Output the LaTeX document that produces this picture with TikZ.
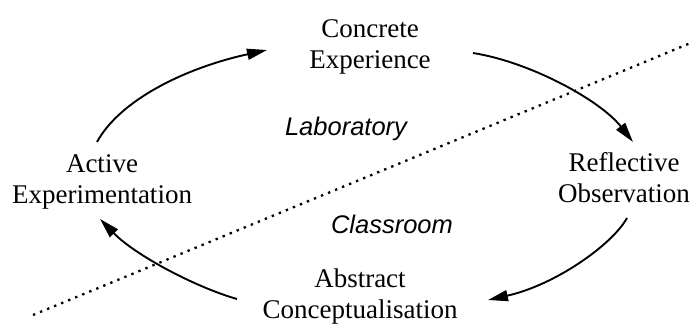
\documentclass[tikz,border=0pt]{standalone}
\usepackage{fontspec}
\setmainfont{Liberation Serif}
\newfontfamily\labfont{Liberation Sans}
\usetikzlibrary{arrows.meta}
\tikzset{
  stage/.style={inner sep=0pt, anchor=base, align=center, font=\fontsize{27}{31}\selectfont},
  area/.style={inner sep=0pt, anchor=base, font=\labfont\itshape\fontsize{25.5}{30}\selectfont},
  cyc/.style={line width=1.9pt, -{Triangle[length=20pt,width=11pt]}},
  divider/.style={line width=2.3pt, dash pattern=on 2.4pt off 5.2pt}
}
\begin{document}
\begin{tikzpicture}[x=1pt,y=-1pt]
\useasboundingbox (0,0) rectangle (694,324);
% dividing line
\coordinate (dl) at (33,315);
\coordinate (dr) at (693,42);
\draw[divider] (dl) -- (dr);
% stages (base = baseline of last line)
\node[stage] (ce) at (370,68) {Concrete\\Experience};
\node[stage] (ro) at (624,202) {Reflective\\Observation};
\node[stage] (ac) at (360,318) {Abstract\\Conceptualisation};
\node[stage] (ae) at (102,203) {Active\\Experimentation};
% areas
\node[area] (lab) at (346,135) {Laboratory};
\node[area] (cls) at (392,233) {Classroom};
% arrow end points
\coordinate (a1s) at (97,142);  \coordinate (a1e) at (267,50);
\coordinate (a2s) at (473,53);  \coordinate (a2e) at (633,142);
\coordinate (a3s) at (627,218); \coordinate (a3e) at (488,300);
\coordinate (a4s) at (237,299); \coordinate (a4e) at (100,219);
\draw[cyc] (a1s) .. controls (120,100) and (185,68) .. (a1e);
\draw[cyc] (a2s) .. controls (530,62) and (600,100) .. (a2e);
\draw[cyc] (a3s) .. controls (612,245) and (555,285) .. (a3e);
\draw[cyc] (a4s) .. controls (195,287) and (135,255) .. (a4e);
\end{tikzpicture}
\end{document}
